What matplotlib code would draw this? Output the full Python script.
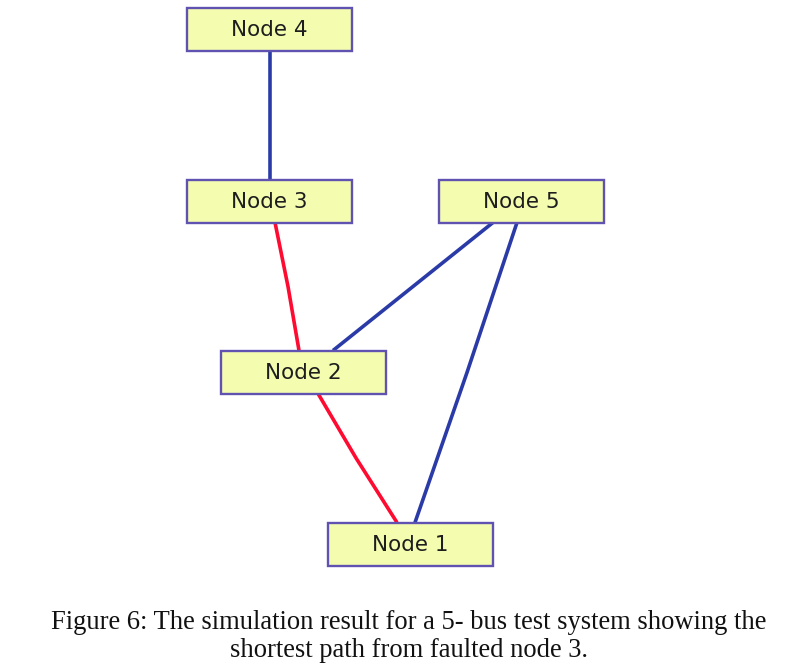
import matplotlib.pyplot as plt
from matplotlib.patches import Rectangle

# node labels and centre positions (pixels, y down)
node_names = ['Node 1', 'Node 2', 'Node 3', 'Node 4', 'Node 5']
node_x = [410.5, 303.5, 269.5, 269.5, 521.5]
node_y = [544, 372, 201, 29, 201]
box_w, box_h = 165, 43

# edges: (from, to), on shortest path?, attach offsets at each box, kink offset
edge_pairs = [('Node 4', 'Node 3'), ('Node 3', 'Node 2'), ('Node 5', 'Node 2'),
              ('Node 5', 'Node 1'), ('Node 2', 'Node 1')]
on_path = [False, True, False, False, True]
src_dx = [0, 5.5, -28.5, -4.5, 14.5]
dst_dx = [0, -4.5, 29.5, 4.5, -13.5]
kink = [0, 1.0, 0, 1.0, -1.5]

caption = ['Figure 6: The simulation result for a 5- bus test system showing the',
           'shortest path from faulted node 3.']

RED = '#ff0a30'
BLUE = '#2a3ba8'

fig = plt.figure(figsize=(7.94, 6.66), dpi=100)
ax = fig.add_axes([0, 0, 1, 1])
ax.set_xlim(0, 794)
ax.set_ylim(666, 0)
ax.axis('off')

pos = {n: (x, y) for n, x, y in zip(node_names, node_x, node_y)}

for (a, b), p, d0, d1, k in zip(edge_pairs, on_path, src_dx, dst_dx, kink):
    x0, y0 = pos[a][0] + d0, pos[a][1] + box_h / 2
    x1, y1 = pos[b][0] + d1, pos[b][1] - box_h / 2
    mx, my = (x0 + x1) / 2 + k, (y0 + y1) / 2
    ax.plot([x0, mx, x1], [y0, my, y1], color=RED if p else BLUE, lw=2.6,
            solid_capstyle='butt', zorder=1)

for n, x, y in zip(node_names, node_x, node_y):
    ax.add_patch(Rectangle((x - box_w / 2, y - box_h / 2), box_w, box_h,
                           facecolor='#f4fcb0', edgecolor='#6052b0', lw=1.7, zorder=2))
    ax.text(x, y + 1, n, ha='center', va='center', fontsize=15.5,
            family='DejaVu Sans', color='#1e1e1e', zorder=3)

ax.text(409, 629, caption[0], ha='center', va='baseline', fontsize=19.1,
        family='Liberation Serif', color='#111111')
ax.text(409, 657, caption[1], ha='center', va='baseline', fontsize=19.1,
        family='Liberation Serif', color='#111111')

fig.savefig('out.png', dpi=100)
